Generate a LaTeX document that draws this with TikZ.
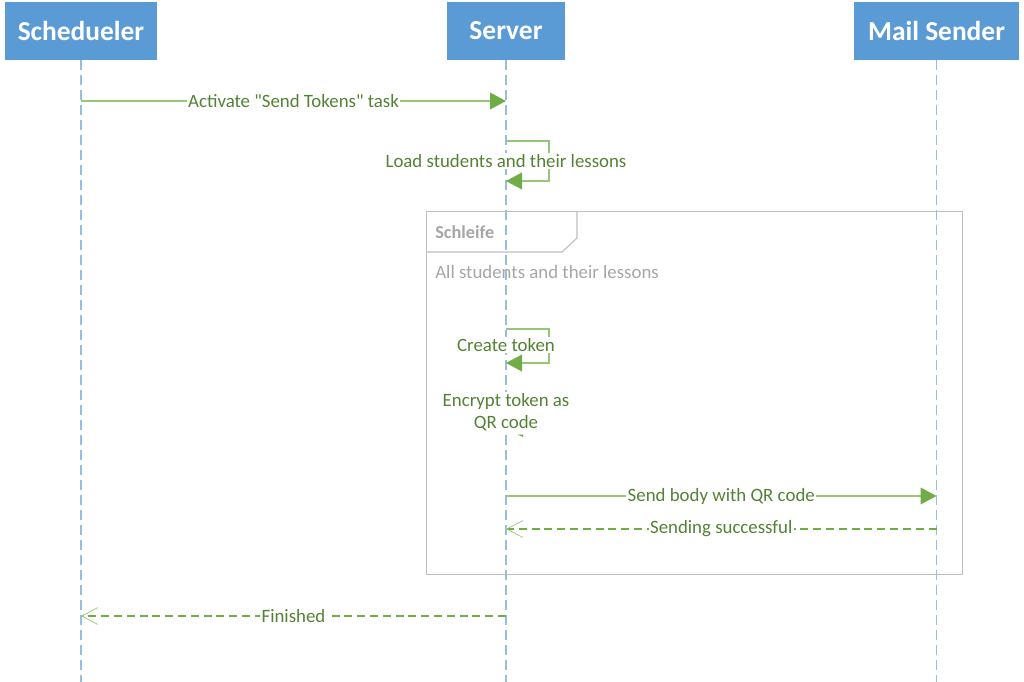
\documentclass[tikz,border=0pt]{standalone}
\usepackage{fontspec}
\setmainfont{Carlito}[Ligatures=TeXOff]
\usetikzlibrary{arrows.meta, positioning, calc}
\definecolor{hdrblue}{RGB}{91,155,213}
\definecolor{lifeblue}{RGB}{150,190,228}
\definecolor{msggreen}{RGB}{112,173,71}
\definecolor{msgline}{RGB}{150,198,118}
\definecolor{txtgreen}{RGB}{84,130,53}
\definecolor{frmgray}{RGB}{191,191,191}
\definecolor{grdgray}{RGB}{166,166,166}

\begin{document}
\begin{tikzpicture}[x=0.025cm, y=-0.025cm,
    hdr/.style={rectangle, fill=hdrblue, text=white, inner sep=0pt,
                minimum height=1.45cm, font=\fontsize{19.5}{22}\selectfont\bfseries},
    life/.style={draw=lifeblue, line width=0.9pt, dash pattern=on 0.25cm off 0.125cm},
    call/.style={draw=msgline, line width=0.8pt,
                 -{Triangle[length=0.4cm, width=0.42cm, color=msggreen]}},
    reply/.style={draw=msggreen, line width=0.8pt, dash pattern=on 0.2cm off 0.12cm,
                  -{Straight Barb[length=0.4cm, width=0.42cm, line width=0.5pt, color=msgline]}},
    lbl/.style={fill=white, text=txtgreen, inner sep=1pt, align=center,
                font=\fontsize{13.4}{15.6}\selectfont},
    frm/.style={draw=frmgray, line width=0.8pt},
    grd/.style={text=grdgray, inner sep=0pt, anchor=west}
  ]
    \useasboundingbox (0,0) rectangle (1024,682);

    % Kopf der Lebenslinien
    \node[hdr, minimum width=3.8cm]   (sch)  at (81,31)    {Schedueler};
    \node[hdr, minimum width=2.95cm]  (srv)  at (506,31)   {Server};
    \node[hdr, minimum width=4.125cm] (mail) at (936.5,31) {Mail Sender};

    \coordinate (schEnd)  at (sch.south  |- 0,682);
    \coordinate (srvEnd)  at (srv.south  |- 0,682);
    \coordinate (mailEnd) at (mail.south |- 0,682);

    % Schleife
    \node[frm, anchor=north west, minimum width=13.4cm, minimum height=9.075cm,
          inner sep=0pt] (loop) at (426,211) {};
    \draw[frm] (426,252) -- (562,252) -- (577,238) -- (577,211);
    \node[grd, font=\fontsize{13}{15}\selectfont\bfseries] (loopname) at (435,232) {Schleife};
    \node[grd, font=\fontsize{13.4}{15.6}\selectfont] (guard) at (435,272)
         {All students and their lessons};

    % Lebenslinien
    \draw[life] (sch.south)  -- (schEnd);
    \draw[life] (srv.south)  -- (srvEnd);
    \draw[life] (mail.south) -- (mailEnd);

    % Punkte auf den Lebenslinien
    \coordinate (a1) at (sch.south |- 0,101);
    \coordinate (a2) at (srv.south |- 0,101);
    \coordinate (b1) at (srv.south |- 0,141);
    \coordinate (b2) at (srv.south |- 0,181);
    \coordinate (c1) at (srv.south |- 0,329);
    \coordinate (c2) at (srv.south |- 0,363);
    \coordinate (d1) at (srv.south |- 0,496);
    \coordinate (d2) at (mail.south |- 0,496);
    \coordinate (e1) at (mail.south |- 0,529);
    \coordinate (e2) at (srv.south |- 0,529);
    \coordinate (f1) at (srv.south |- 0,616);
    \coordinate (f2) at (sch.south |- 0,616);

    % Nachrichten
    \draw[call]  (a1) -- (a2);
    \draw[call]  (b1) -- ++(43,0) |- (b2);
    \draw[call]  (c1) -- ++(43,0) |- (c2);
    \fill[msggreen] (517,434.5) -- (523,434.5) -- (523,437) -- cycle;
    \draw[call]  (d1) -- (d2);
    \draw[reply] (e1) -- (e2);
    \draw[reply] (f1) -- (f2);

    % Beschriftungen
    \node[lbl] (la) at ($(a1)!0.5!(a2)$) {Activate "Send Tokens" task};
    \node[lbl] (lb) at (506,161) {Load students and their lessons};
    \node[lbl] (lc) at (506,345) {Create token};
    \node[lbl] (ld) at (506,412) {Encrypt token as\\QR code};
    \node[lbl] (le) at ($(d1)!0.5!(d2)$) {Send body with QR code};
    \node[lbl] (lf) at ($(e1)!0.5!(e2)$) {Sending successful};
    \node[lbl] (lg) at ($(f1)!0.5!(f2)$) {Finished};
  \end{tikzpicture}
\end{document}
